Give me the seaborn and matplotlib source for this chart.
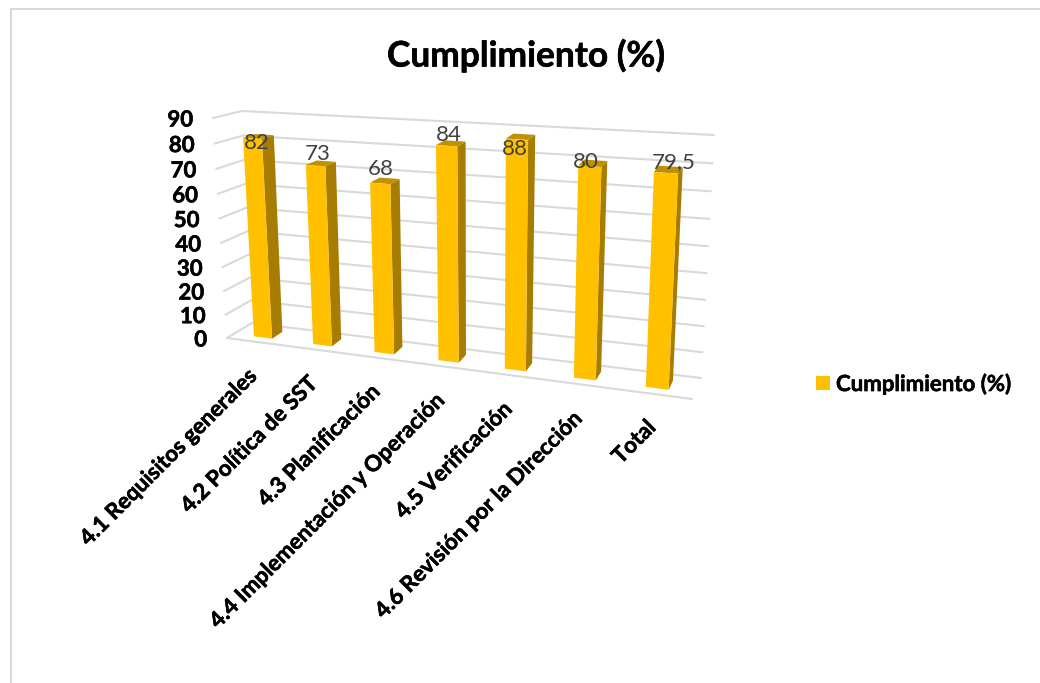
import numpy as np
import matplotlib
matplotlib.use("Agg")
from matplotlib import pyplot as plt
from matplotlib import patheffects
from matplotlib import transforms as mtransforms
from matplotlib.patches import Polygon
import seaborn as sns

categories = [
    "4.1 Requisitos generales",
    "4.2 Política de SST",
    "4.3 Planificación",
    "4.4 Implementación y Operación",
    "4.5 Verificación",
    "4.6 Revisión por la Dirección",
    "Total",
]
values = [82, 73, 68, 84, 88, 80, 79.5]
value_labels = ["82", "73", "68", "84", "88", "80", "79,5"]
y_ticks = [0, 10, 20, 30, 40, 50, 60, 70, 80, 90]
series_name = "Cumplimiento (%)"

WIDTH, HEIGHT = 1040, 683
X_MIN, X_MAX = -0.5, 6.5
Y_MAX = 90
BAR_WIDTH = 0.31
BAR_FRONT, BAR_BACK = 0.28, 0.72  # depth of the bars in the box, 0 front 1 back

# corners of the 3d box on screen, pixels from top left
FRONT_CORNERS = np.array([[227, 338], [692, 399], [213, 118], [704, 149]], float)
BACK_CORNERS = np.array([[252, 323], [701, 378], [242, 111], [714, 135]], float)

# excel labels were dragged around by hand, offset from top of bar
LABEL_NUDGE = [(4, 5), (2, -12), (1, -14), (2, -11), (-2, 10), (-4, -4), (8, -11)]

FRONT_COLOR = "#FFC000"
SIDE_COLOR = "#A67D00"
TOP_COLOR = "#BF9000"
GRID_COLOR = "#D9D9D9"

# lato bold is a bit lighter than the original font
HEAVY = [patheffects.withStroke(linewidth=0.4, foreground="black")]


def homography(depth):
    dst = FRONT_CORNERS * (1 - depth) + BACK_CORNERS * depth
    src = [(X_MIN, 0), (X_MAX, 0), (X_MIN, Y_MAX), (X_MAX, Y_MAX)]
    a, b = [], []
    for (x, y), (u, v) in zip(src, dst):
        a.append([x, y, 1, 0, 0, 0, -u * x, -u * y])
        a.append([0, 0, 0, x, y, 1, -v * x, -v * y])
        b.extend([u, v])
    h = np.linalg.solve(np.array(a), np.array(b))
    return np.append(h, 1).reshape(3, 3)


class PlaneTransform(mtransforms.Transform):
    """data coords of a slice of the box -> display coords"""

    input_dims = 2
    output_dims = 2

    def __init__(self, depth):
        super().__init__()
        self.h = homography(depth)

    def transform_non_affine(self, xy):
        xy = np.asarray(xy, float)
        p = self.h @ np.column_stack([xy, np.ones(len(xy))]).T
        return np.column_stack([p[0] / p[2], HEIGHT - p[1] / p[2]])


def project(x, y, depth):
    return PlaneTransform(depth).transform_non_affine([[x, y]])[0]


sns.set_style("white")
plt.rcParams["font.family"] = ["Lato", "DejaVu Sans"]

fig = plt.figure(figsize=(WIDTH / 100, HEIGHT / 100), dpi=100)
ax = fig.add_axes([0, 0, 1, 1])

sns.barplot(
    x=categories, y=values, ax=ax, color=FRONT_COLOR, saturation=1,
    width=BAR_WIDTH, label=series_name, zorder=4,
)
bars = list(ax.patches)
front = PlaneTransform(BAR_FRONT)
for bar in bars:
    bar.set_transform(front)
    bar.set_clip_on(False)
    bar.set_linewidth(0)

display = mtransforms.IdentityTransform()

# gridlines on back wall and left wall
back = PlaneTransform(1)
for t in y_ticks:
    ax.plot([X_MIN, X_MAX], [t, t], color=GRID_COLOR, lw=1.5, transform=back, clip_on=False, zorder=1)
    p0, p1 = project(X_MIN, t, 0), project(X_MIN, t, 1)
    ax.plot([p0[0], p1[0]], [p0[1], p1[1]], color=GRID_COLOR, lw=1.5, transform=display, clip_on=False, zorder=1)
    ax.text(p0[0] - 20, p0[1] - 2, str(t), transform=display, ha="right", va="center",
            fontsize=16, fontweight="bold", color="black", path_effects=HEAVY)
p0, p1 = project(X_MIN, 0, 0), project(X_MAX, 0, 0)
ax.plot([p0[0], p1[0]], [p0[1], p1[1]], color=GRID_COLOR, lw=1.5, transform=display, clip_on=False, zorder=1)

# side and top faces of the bars
for i, v in enumerate(values):
    left, right = i - BAR_WIDTH / 2, i + BAR_WIDTH / 2
    side = [project(right, 0, BAR_FRONT), project(right, 0, BAR_BACK),
            project(right, v, BAR_BACK), project(right, v, BAR_FRONT)]
    top = [project(left, v, BAR_FRONT), project(right, v, BAR_FRONT),
           project(right, v, BAR_BACK), project(left, v, BAR_BACK)]
    ax.add_patch(Polygon(side, closed=True, transform=display, facecolor=SIDE_COLOR, lw=0, clip_on=False, zorder=3))
    ax.add_patch(Polygon(top, closed=True, transform=display, facecolor=TOP_COLOR, lw=0, clip_on=False, zorder=3))

    px, py = project(i, v, BAR_FRONT)
    nx, ny = LABEL_NUDGE[i]
    ax.text(px + nx, py - ny, value_labels[i], transform=display, ha="center", va="center",
            fontsize=16, color="#404040", zorder=6)

    fx, fy = project(i, 0, 0)
    ax.text(fx - 2, fy - 30, categories[i], transform=display, rotation=45, rotation_mode="anchor",
            ha="right", va="center", fontsize=16, fontweight="bold", color="black", path_effects=HEAVY)

ax.set_axis_off()
ax.set_title("")
fig.text(526 / WIDTH, 1 - 56 / HEIGHT, series_name, ha="center", va="center",
         fontsize=25.4, fontweight="bold", color="black", path_effects=HEAVY)

leg = ax.legend(
    loc="center left", bbox_to_anchor=(816 / WIDTH, 1 - 384 / HEIGHT), frameon=False,
    prop={"family": "Lato", "weight": "bold", "size": 16},
    handlelength=0.63, handleheight=0.63, handletextpad=0.27, borderpad=0, borderaxespad=0,
    labelcolor="black",
)
for txt in leg.get_texts():
    txt.set_path_effects(HEAVY)

# chart frame, cut off by the screenshot on right and bottom
fig.add_artist(plt.Line2D([10.5 / WIDTH, 10.5 / WIDTH], [0, 1 - 8.5 / HEIGHT], color=GRID_COLOR, lw=1.5))
fig.add_artist(plt.Line2D([10.5 / WIDTH, 1], [1 - 8.5 / HEIGHT, 1 - 8.5 / HEIGHT], color=GRID_COLOR, lw=1.5))

fig.savefig("out.png", dpi=100, facecolor="white")
